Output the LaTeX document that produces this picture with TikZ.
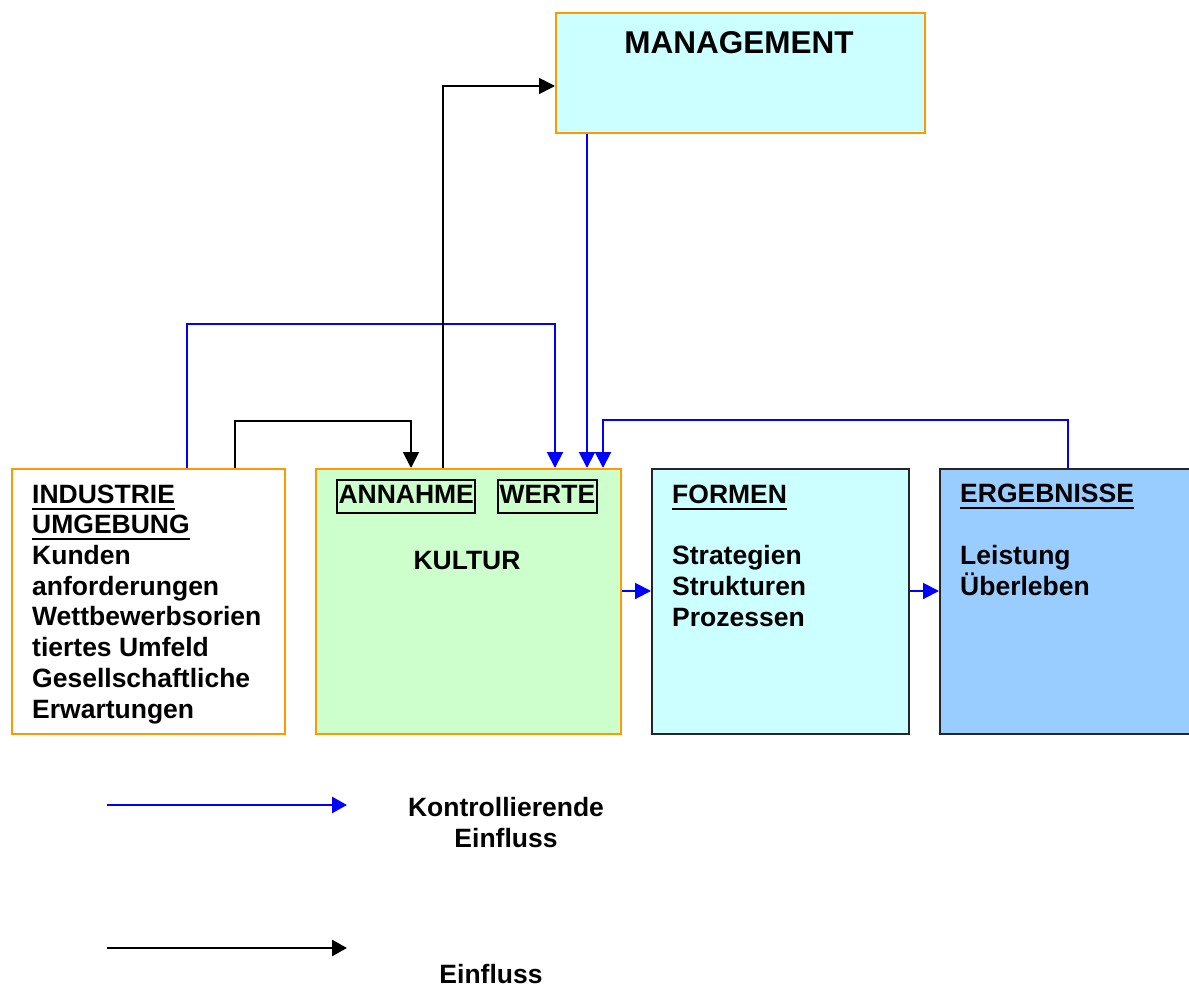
\documentclass[tikz,border=0pt]{standalone}
\usepackage{fontspec}
\setmainfont{Liberation Sans}
\usetikzlibrary{arrows.meta,calc}
\definecolor{mgmtfill}{HTML}{CCFFFF}
\definecolor{kulfill}{HTML}{CCFFCC}
\definecolor{ergfill}{HTML}{99CCFF}
\definecolor{orangeline}{HTML}{FF9900}
\definecolor{ctrlblue}{HTML}{0000FF}
% underlined heading word
\newcommand{\ulword}[1]{\setbox0\hbox{#1}\rlap{\rule[-6.5pt]{\wd0}{2pt}}\box0}
\begin{document}
\begin{tikzpicture}[x=1pt,y=-1pt,
  box/.style={draw, line width=2pt, inner sep=0pt, anchor=north west},
  obox/.style={box, draw=orangeline},
  kbox/.style={box, draw=black!85},
  % multi-line texts are placed by the baseline of their last line
  txt/.style={inner sep=0pt, anchor=base west, align=left,
    font=\fontsize{26.5pt}{30.7pt}\selectfont\bfseries},
  tag/.style={draw, line width=2pt, inner xsep=1.5pt, inner ysep=3pt,
    text height=20pt, text depth=7pt, anchor=base west,
    font=\fontsize{26.5pt}{30.7pt}\selectfont\bfseries},
  ctrl/.style={draw=ctrlblue, line width=2pt, -{Triangle[length=16pt,width=16pt]}},
  infl/.style={draw=black, line width=1.8pt, -{Triangle[length=16pt,width=16pt]}},
  legctrl/.style={ctrl, line width=2.7pt, -{Triangle[length=15pt,width=16pt]}},
  leginfl/.style={infl, line width=2.7pt, -{Triangle[length=15pt,width=16pt]}},
]
\useasboundingbox (0,0) rectangle (1189,988);
\clip (0,0) rectangle (1189,988);

% boxes
\node[obox, fill=mgmtfill, minimum width=369pt, minimum height=120pt] (mgmt) at (555,12) {};
\node[obox, fill=white, minimum width=273pt, minimum height=265pt] (ind) at (11,468) {};
\node[obox, fill=kulfill, minimum width=305pt, minimum height=265pt] (kul) at (315,468) {};
\node[kbox, fill=mgmtfill, minimum width=257pt, minimum height=265pt] (form) at (651,468) {};
\node[kbox, fill=ergfill, minimum width=300pt, minimum height=265pt] (erg) at (939,468) {};

% box texts
\node[inner sep=0pt, anchor=base, font=\fontsize{31.5pt}{36pt}\selectfont\bfseries] (mgmtlabel) at (739,53) {MANAGEMENT};
\node[txt] (indtext) at (32,718) {\ulword{INDUSTRIE}\\ \ulword{UMGEBUNG}\\ Kunden\\ anforderungen\\ Wettbewerbsorien\\ tiertes Umfeld\\ Gesellschaftliche\\ Erwartungen};
\node[tag] (annahme) at (336,503) {ANNAHME};
\node[tag] (werte) at (497,503) {WERTE};
\node[txt, anchor=base] (kultur) at (467,569) {KULTUR};
\node[txt] (formtext) at (672,626) {\ulword{FORMEN}\\[30.7pt] Strategien\\ Strukturen\\ Prozessen};
\node[txt] (ergtext) at (960,595) {\ulword{ERGEBNISSE}\\[30.7pt] Leistung\\ Überleben};

% connectors
\draw[ctrl] ([xshift=176pt]ind.north west) -- ++(0,-144) -| ([xshift=240pt]kul.north west);
\draw[infl] ([xshift=224pt]ind.north west) -- ++(0,-47) -| ([xshift=96pt]kul.north west);
\draw[infl] ([xshift=128pt]kul.north west) |- ([yshift=-13pt]mgmt.west);
\draw[ctrl] ([xshift=32pt]mgmt.south west) -- ([xshift=272pt]kul.north west);
\draw[ctrl] ([xshift=129pt]erg.north west) -- ++(0,-48) -| ([xshift=288pt]kul.north west);
\draw[ctrl] ([yshift=10.5pt]kul.east) -- ([yshift=10.5pt]form.west);
\draw[ctrl] ([yshift=10.5pt]form.east) -- ([yshift=10.5pt]erg.west);

% legend
\coordinate (lc1) at (107,805);
\coordinate (lc2) at (347,805);
\coordinate (li1) at (107,948);
\coordinate (li2) at (347,948);
\draw[legctrl] (lc1) -- (lc2);
\draw[leginfl] (li1) -- (li2);
\node[txt, anchor=base, align=center] (legctrltext) at (506,847) {Kontrollierende\\ Einfluss};
\node[txt, anchor=base] (leginfltext) at (491,983) {Einfluss};
\end{tikzpicture}
\end{document}
